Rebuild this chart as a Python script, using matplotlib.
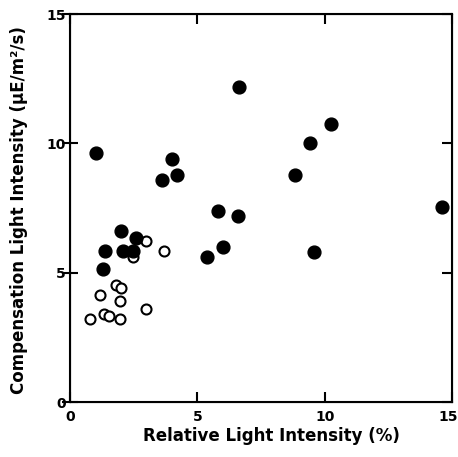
import matplotlib
matplotlib.use("Agg")
import matplotlib.pyplot as plt
from matplotlib.transforms import ScaledTranslation

# filled circles
filled_x = [1.00, 6.63, 10.23, 9.43, 4.02, 4.19, 3.60, 8.83, 14.62, 5.81, 6.60,
            1.99, 2.59, 1.38, 2.07, 2.46, 5.99, 5.39, 9.59, 1.28]
filled_y = [9.63, 12.19, 10.77, 10.00, 9.39, 8.80, 8.59, 8.77, 7.55, 7.38, 7.19,
            6.62, 6.33, 5.85, 5.85, 5.85, 6.00, 5.62, 5.79, 5.15]

# open circles
open_x = [2.97, 3.69, 2.46, 1.80, 1.99, 1.17, 1.97, 2.97, 0.77, 1.34, 1.54, 1.97]
open_y = [6.24, 5.84, 5.62, 4.52, 4.43, 4.14, 3.92, 3.61, 3.22, 3.40, 3.32, 3.21]

xticks = [0, 5, 10, 15]
yticks = [0, 5, 10, 15]

plt.rcParams['font.family'] = 'DejaVu Sans'
plt.rcParams['font.weight'] = 'bold'

fig = plt.figure(figsize=(4.58, 4.57), dpi=100)
ax = fig.add_axes([0.153, 0.120, 0.834, 0.849])

ax.scatter(open_x, open_y, s=52, facecolors='white', edgecolors='black',
           linewidths=1.5, zorder=3)
ax.scatter(filled_x, filled_y, s=85, color='black', zorder=4)

ax.set_xlim(0, 15)
ax.set_ylim(0, 15)
ax.set_xticks(xticks)
ax.set_yticks(yticks)
ax.tick_params(axis='x', direction='in', top=True, length=7.5, width=1.5,
               labelsize=10, pad=6)
ax.tick_params(axis='y', direction='inout', length=12, width=1.5,
               labelsize=10, pad=-3)
for s in ax.spines.values():
    s.set_linewidth(1.5)

# last x label sits a little left so it stays inside the figure
last = ax.get_xticklabels()[-1]
last.set_transform(last.get_transform() + ScaledTranslation(-4 / 100, 0, fig.dpi_scale_trans))

# right-hand ticks point inward only
ax2 = ax.twinx()
ax2.set_ylim(ax.get_ylim())
ax2.set_yticks(yticks)
ax2.tick_params(axis='y', direction='in', length=7.5, width=1.5, labelright=False)

ax.set_xlabel('Relative Light Intensity (%)', fontsize=12, fontweight='bold')
ax.xaxis.set_label_coords(0.526, -0.064)
ax.set_ylabel('Compensation Light Intensity (μE/m²/s)', fontsize=12, fontweight='bold')
ax.yaxis.set_label_coords(-0.110, 0.495)

fig.savefig('out.png', dpi=100)
